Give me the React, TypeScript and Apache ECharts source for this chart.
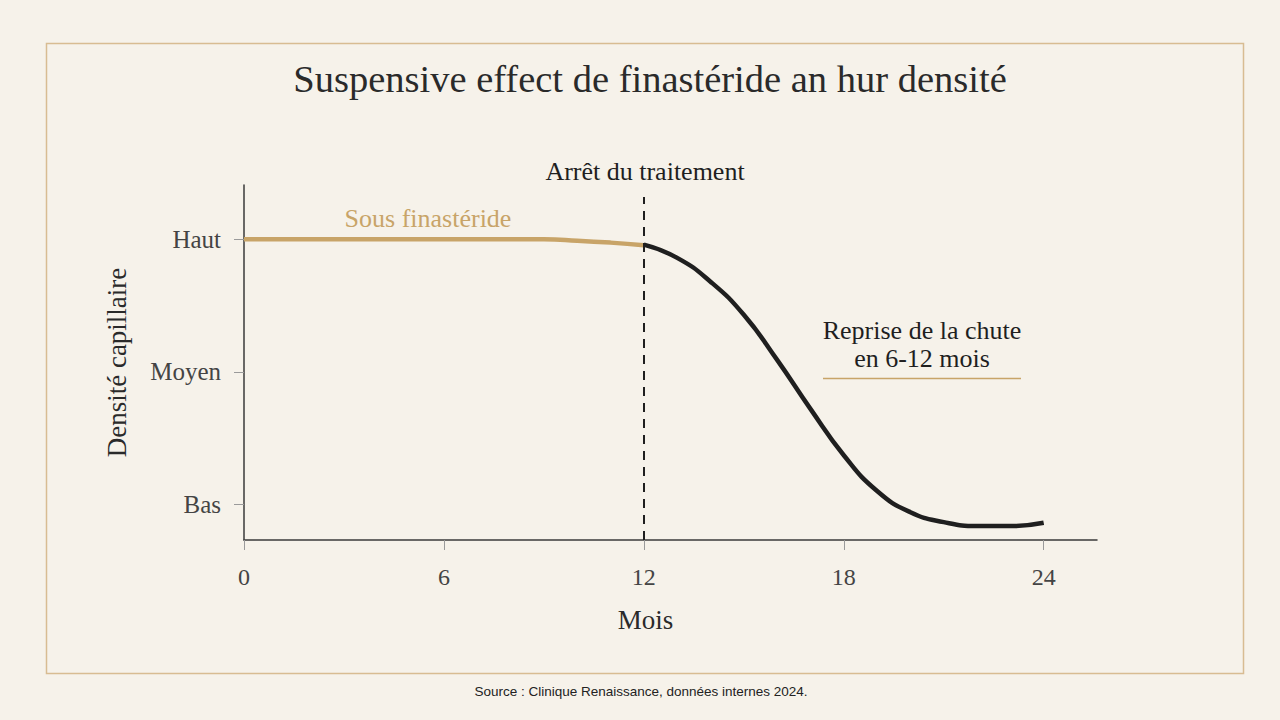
import React, { useEffect, useRef } from 'react';
import * as echarts from 'echarts';

const months = [0, 1, 2, 3, 4, 5, 6, 7, 8, 9, 10, 11, 12, 13, 14, 15, 16, 17, 18, 19, 20, 21, 22, 23, 24];
const onTreatment = [3, 3, 3, 3, 3, 3, 3, 3, 3, 3, 2.99, 2.975, 2.955];
const afterStop = [2.96, 2.86, 2.68, 2.43, 2.09, 1.72, 1.37, 1.1, 0.94, 0.865, 0.835, 0.835, 0.86];
const stopMonth = 12;
const xTicks = [0, 6, 12, 18, 24];
const yTicks = [1, 2, 3];
const yTickLabels = ['Bas', 'Moyen', 'Haut'];

const SERIF = '"Liberation Serif", "DejaVu Serif", serif';
const GOLD = '#c8a468';
const INK = '#1f1f1f';

const App: React.FC = () => {
  const chartRef = useRef<HTMLDivElement>(null);

  useEffect(() => {
    if (!chartRef.current) return;
    const chart = echarts.init(chartRef.current, undefined, { renderer: 'svg' });

    const goldData = onTreatment.map((v, i) => [months[i], v]);
    const blackData = afterStop.map((v, i) => [months[i + stopMonth], v]);

    chart.setOption({
      animation: false,
      backgroundColor: '#f6f2ea',
      grid: { left: 244, right: 183, top: 185, bottom: 180 },
      xAxis: {
        type: 'value',
        min: 0,
        max: 25.6,
        name: 'Mois',
        nameLocation: 'middle',
        nameGap: 66,
        nameTextStyle: { fontFamily: SERIF, fontSize: 27, color: '#2a2a2a', padding: [0, 50, 0, 0] },
        axisLine: { lineStyle: { color: '#3a3a3a', width: 1.5 } },
        axisTick: { show: true, length: 10, customValues: xTicks, lineStyle: { color: '#9a9a9a' } },
        axisLabel: {
          customValues: xTicks,
          margin: 25,
          fontFamily: SERIF,
          fontSize: 24,
          color: '#444',
        },
        splitLine: { show: false },
      },
      yAxis: {
        type: 'value',
        min: 0.73,
        max: 3.41,
        name: 'Densité capillaire',
        nameLocation: 'middle',
        nameGap: 114,
        nameRotate: 90,
        nameTextStyle: { fontFamily: SERIF, fontSize: 27, color: '#2a2a2a' },
        axisLine: { show: true, lineStyle: { color: '#3a3a3a', width: 1.5 } },
        axisTick: { show: true, length: 10, customValues: yTicks, lineStyle: { color: '#9a9a9a' } },
        axisLabel: {
          customValues: yTicks,
          margin: 23,
          fontFamily: SERIF,
          fontSize: 25,
          color: '#444',
          formatter: (v: number) => yTickLabels[yTicks.indexOf(Math.round(v))] ?? '',
        },
        splitLine: { show: false },
      },
      series: [
        {
          name: 'Sous finastéride',
          type: 'line',
          data: goldData,
          smooth: true,
          showSymbol: false,
          lineStyle: { color: GOLD, width: 4.5 },
          markLine: {
            silent: true,
            symbol: 'none',
            label: { show: false },
            lineStyle: { color: INK, type: [9, 7], width: 2 },
            data: [[{ coord: [stopMonth, 0.73] }, { coord: [stopMonth, 3.32] }]],
          },
          z: 3,
        },
        {
          name: 'Après arrêt',
          type: 'line',
          data: blackData,
          smooth: true,
          showSymbol: false,
          lineStyle: { color: INK, width: 4.5 },
          z: 4,
        },
      ],
      graphic: [
        {
          type: 'rect',
          shape: { x: 46.5, y: 43.5, width: 1197, height: 630 },
          style: { fill: 'none', stroke: '#d8bc92', lineWidth: 1.5 },
          silent: true,
        },
        {
          type: 'text',
          x: 650,
          y: 79,
          style: {
            text: 'Suspensive effect de finastéride an hur densité',
            font: `38.5px ${SERIF}`,
            fill: '#2a2a2a',
            textAlign: 'center',
            textVerticalAlign: 'middle',
          },
        },
        {
          type: 'text',
          x: 645,
          y: 171,
          style: { text: 'Arrêt du traitement', font: `26px ${SERIF}`, fill: '#1f1f1f', textAlign: 'center', textVerticalAlign: 'middle' },
        },
        {
          type: 'text',
          x: 428,
          y: 218,
          style: { text: 'Sous finastéride', font: `26px ${SERIF}`, fill: GOLD, textAlign: 'center', textVerticalAlign: 'middle' },
        },
        {
          type: 'text',
          x: 922,
          y: 344,
          style: {
            text: 'Reprise de la chute\nen 6-12 mois',
            font: `26px ${SERIF}`,
            lineHeight: 28,
            fill: '#1f1f1f',
            textAlign: 'center',
            textVerticalAlign: 'middle',
          },
        },
        {
          type: 'line',
          shape: { x1: 823, y1: 378.5, x2: 1021, y2: 378.5 },
          style: { stroke: GOLD, lineWidth: 1.5 },
        },
        {
          type: 'text',
          x: 641,
          y: 691,
          style: {
            text: 'Source : Clinique Renaissance, données internes 2024.',
            font: '13.5px "Liberation Sans Narrow", "Liberation Sans", sans-serif',
            fill: '#222',
            textAlign: 'center',
            textVerticalAlign: 'middle',
          },
        },
      ],
    });

    return () => {
      chart.dispose();
    };
  }, []);

  return <div ref={chartRef} style={{ position: 'fixed', left: 0, top: 0, width: 1280, height: 720 }} />;
};

export default App;
